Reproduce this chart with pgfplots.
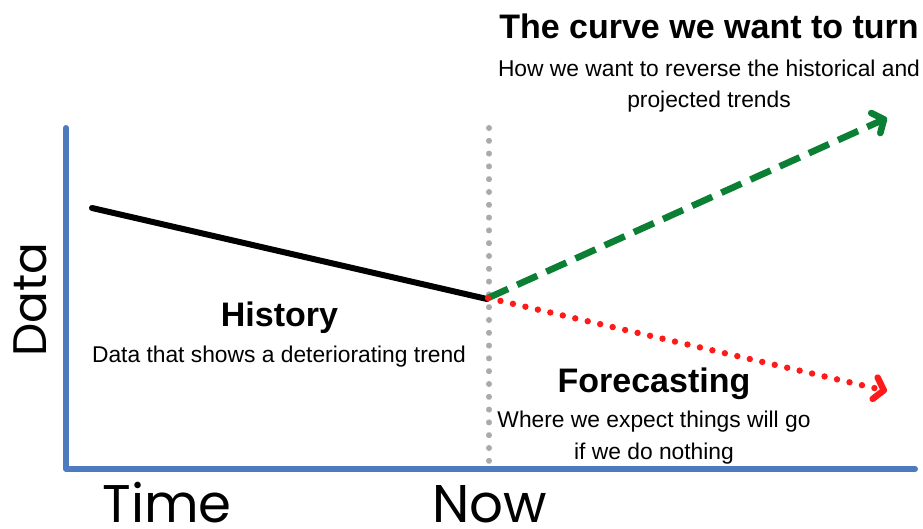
\documentclass[border=0pt]{standalone}
\usepackage{fontspec}
\setmainfont{Liberation Sans}
\newfontfamily\pop{Poppins}
\usepackage{pgfplots}
\pgfplotsset{compat=1.18}
\usetikzlibrary{arrows.meta}
\definecolor{axblue}{HTML}{4E7AC0}
\definecolor{fgreen}{HTML}{0B8035}
\definecolor{fred}{HTML}{FF1A1A}
\definecolor{dgray}{HTML}{AAAAAA}
\begin{document}
\begin{tikzpicture}
\begin{axis}[hide axis, scale only axis, width=461.5pt, height=264.5pt,
  xmin=0, xmax=923, ymin=0, ymax=529, y dir=reverse, clip=false]
% axes
\addplot[axblue, line width=3pt, line cap=round, line join=round] coordinates {(66,128) (66,469) (915,469)};
% now divider
\addplot[dgray, line width=3pt, line cap=round, dash pattern=on 0pt off 6.4pt] coordinates {(489,128) (489,464)};
% history
\addplot[black, line width=3pt, line cap=round] coordinates {(92,208) (487,299)};
% desired
\addplot[fgreen, line width=3.3pt, dash pattern=on 11pt off 5pt, -{Straight Barb[length=4.5pt,width=11pt,line cap=round,line join=round]}] coordinates {(488,298) (887,118)};
% forecast
\addplot[fred, line width=3.2pt, line cap=round, dash pattern=on 0pt off 6.4pt, -{Straight Barb[length=4.5pt,width=11pt,line cap=round,line join=round]}] coordinates {(488,298) (887,391)};
% texts
\node[anchor=base, font=\bfseries\fontsize{17}{20}\selectfont] at (709,39) {The curve we want to turn};
\node[anchor=base, font=\fontsize{11.4}{13}\selectfont] at (709,77) {How we want to reverse the historical and};
\node[anchor=base, font=\fontsize{11.4}{13}\selectfont] at (709,108) {projected trends};
\node[anchor=base, font=\bfseries\fontsize{17}{20}\selectfont] at (279.5,327) {History};
\node[anchor=base, font=\fontsize{11.4}{13}\selectfont] at (279,363) {Data that shows a deteriorating trend};
\node[anchor=base, font=\bfseries\fontsize{17}{20}\selectfont] at (654,393) {Forecasting};
\node[anchor=base, font=\fontsize{11.4}{13}\selectfont] at (654,428) {Where we expect things will go};
\node[anchor=base, font=\fontsize{11.4}{13}\selectfont] at (654,460) {if we do nothing};
\node[anchor=base, inner sep=0pt, font=\pop\fontsize{26.5}{30}\selectfont] at (167,523) {Time};
\node[anchor=base, inner sep=0pt, font=\pop\fontsize{26.5}{30}\selectfont] at (490,523) {Now};
\node[anchor=base, rotate=90, font=\pop\fontsize{23.5}{26}\selectfont] at (47,300) {Data};
\end{axis}
\pgfresetboundingbox
\useasboundingbox (0,0) rectangle (461.5pt,264.5pt);
\end{tikzpicture}
\end{document}
